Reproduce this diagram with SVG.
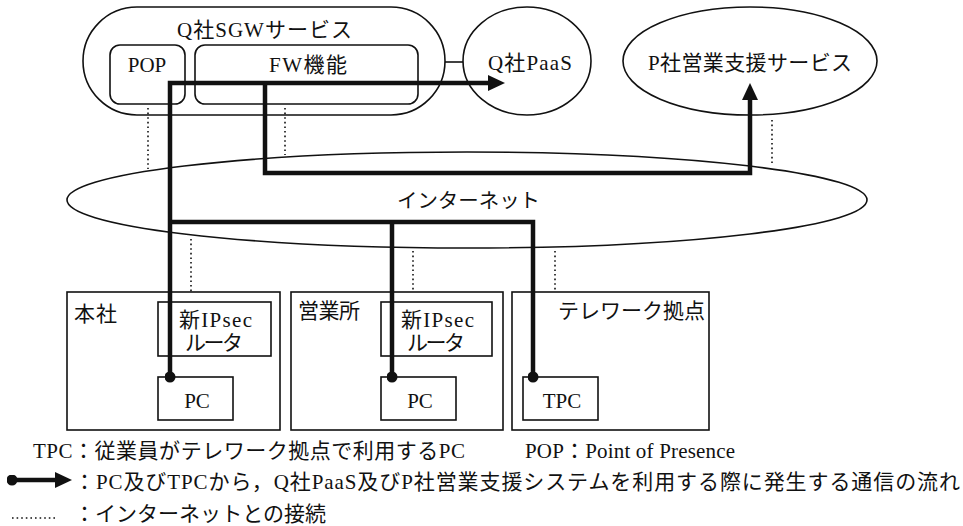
<svg xmlns="http://www.w3.org/2000/svg" width="963" height="526" viewBox="0 0 963 526">
<style>
text{font-family:"Liberation Serif","Noto Sans CJK JP",serif;fill:#111;}
.n{fill:#fff;stroke:#111;stroke-width:1.6;}
.t21{font-size:21px;}
.t20{font-size:20px;}
.c{text-anchor:middle;}
.flow{fill:none;stroke:#111;stroke-width:4.5;}
.dot{fill:none;stroke:#111;stroke-width:1.6;stroke-dasharray:1.6 3;}
.thin{fill:none;stroke:#111;stroke-width:1.6;}
</style>
<defs>
<marker id="ah" markerUnits="userSpaceOnUse" viewBox="0 0 17 16" refX="0" refY="8" markerWidth="17" markerHeight="16" orient="auto">
<path d="M0,0 L17,8 L0,16 z" fill="#111"/>
</marker>
<marker id="bd" markerUnits="userSpaceOnUse" viewBox="0 0 11 11" refX="5.5" refY="5.5" markerWidth="11" markerHeight="11" orient="auto">
<circle cx="5.5" cy="5.5" r="5.5" fill="#111"/>
</marker>
</defs>
<rect width="963" height="526" fill="#fff"/>

<g id="internet">
<ellipse class="n" cx="467" cy="200" rx="400" ry="48"/>
<text class="t20" x="397" y="208" textLength="143" lengthAdjust="spacingAndGlyphs">インターネット</text>
</g>

<g id="sgw">
<rect class="n" x="83" y="7" width="362" height="108" rx="54"/>
<text class="t21" x="177" y="37" textLength="175" lengthAdjust="spacing">Q社SGWサービス</text>
</g>
<g id="pop">
<rect class="n" x="110" y="45" width="75" height="59" rx="10"/>
<text class="t21 c" x="147" y="72">POP</text>
</g>
<g id="fw">
<rect class="n" x="195" y="45" width="223" height="59" rx="10"/>
<text class="t21" x="269" y="72" textLength="78" lengthAdjust="spacing">FW機能</text>
</g>
<g id="paas">
<ellipse class="n" cx="527" cy="61" rx="64" ry="54"/>
<text class="t21" x="488" y="70" textLength="84" lengthAdjust="spacing">Q社PaaS</text>
</g>
<g id="psales">
<ellipse class="n" cx="750" cy="61" rx="127" ry="54"/>
<text class="t21" x="648" y="70" textLength="204" lengthAdjust="spacing">P社営業支援サービス</text>
</g>

<g id="honsha">
<rect class="n" x="67" y="292" width="213" height="138"/>
<text class="t21" x="74" y="321" textLength="43" lengthAdjust="spacing">本社</text>
</g>
<g id="honsha-router">
<rect class="n" x="158" y="302" width="113" height="54"/>
<text class="t21" x="179" y="327" textLength="73" lengthAdjust="spacing">新IPsec</text>
<text class="t21" x="185" y="350" textLength="58" lengthAdjust="spacing">ルータ</text>
</g>
<g id="honsha-pc">
<rect class="n" x="158" y="377" width="75" height="43"/>
<text class="t21 c" x="197" y="408">PC</text>
</g>

<g id="eigyosho">
<rect class="n" x="291" y="292" width="212" height="138"/>
<text class="t21" x="298" y="318" textLength="62" lengthAdjust="spacing">営業所</text>
</g>
<g id="eigyosho-router">
<rect class="n" x="381" y="302" width="111" height="54"/>
<text class="t21" x="401" y="327" textLength="73" lengthAdjust="spacing">新IPsec</text>
<text class="t21" x="407" y="350" textLength="58" lengthAdjust="spacing">ルータ</text>
</g>
<g id="eigyosho-pc">
<rect class="n" x="381" y="377" width="75" height="43"/>
<text class="t21 c" x="420" y="408">PC</text>
</g>

<g id="telework">
<rect class="n" x="512" y="292" width="197" height="138"/>
<text class="t21" x="558" y="318" textLength="147" lengthAdjust="spacing">テレワーク拠点</text>
</g>
<g id="tpc">
<rect class="n" x="523" y="377" width="75" height="43"/>
<text class="t21 c" x="562" y="408">TPC</text>
</g>

<g id="connectors">
<line class="thin" x1="445" y1="62" x2="463" y2="62"/>
<line class="dot" x1="148" y1="108" x2="148" y2="169"/>
<line class="dot" x1="285" y1="108" x2="285" y2="155"/>
<line class="dot" x1="772" y1="120" x2="772" y2="166"/>
<line class="dot" x1="191" y1="239" x2="191" y2="292"/>
<line class="dot" x1="413" y1="251" x2="413" y2="292"/>
<line class="dot" x1="555" y1="251" x2="555" y2="292"/>
<path class="flow" d="M170,377 V83 H488" marker-start="url(#bd)" marker-end="url(#ah)"/>
<path class="flow" d="M265,83 V173 H750 V100" marker-end="url(#ah)"/>
<path class="flow" d="M170,222 H533 V377" marker-end="url(#bd)"/>
<path class="flow" d="M392,222 V377" marker-end="url(#bd)"/>
</g>

<g id="legend">
<text class="t21" x="33" y="458" textLength="432" lengthAdjust="spacing">TPC：従業員がテレワーク拠点で利用するPC</text>
<text class="t21" x="525" y="458" textLength="210" lengthAdjust="spacing">POP：Point of Presence</text>
<path class="flow" d="M12,480 H55" marker-start="url(#bd)" marker-end="url(#ah)"/>
<text class="t21" x="74" y="489" textLength="886" lengthAdjust="spacing">：PC及びTPCから，Q社PaaS及びP社営業支援システムを利用する際に発生する通信の流れ</text>
<line class="dot" x1="12" y1="518" x2="56" y2="518"/>
<text class="t21" x="74" y="521" textLength="252" lengthAdjust="spacing">：インターネットとの接続</text>
</g>
</svg>
